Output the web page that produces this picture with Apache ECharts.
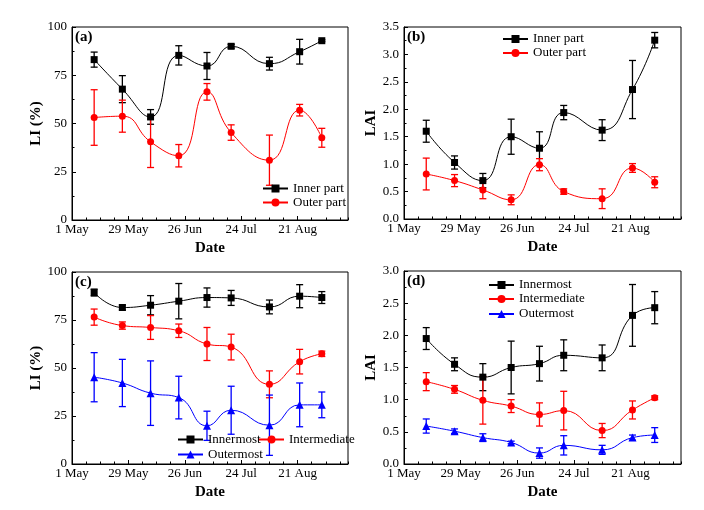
<!DOCTYPE html>
<html><head><meta charset="utf-8">
<script src="https://cdn.jsdelivr.net/npm/echarts@6/dist/echarts.min.js"></script>
<style>html,body{margin:0;padding:0;background:#fff}#c{width:704px;height:510px}</style>
</head><body><div id="c"></div>
<script>
// Sampling dates as days after 1 May
const sampleDays = [11, 25, 39, 53, 67, 79, 98, 113, 124];
const tickDays = [0, 28, 56, 84, 112];
const tickLabels = ['1 May', '29 May', '26 Jun', '24 Jul', '21 Aug'];

// (a) LI (%)
const aInner = [83.1, 67.8, 53.4, 85.3, 79.8, 90.0, 81.0, 87.2, 92.9];
const aInnerErr = [3.9, 7.0, 3.8, 5.0, 7.0, 1.0, 3.3, 6.4, 0.5];
const aOuter = [53.1, 53.8, 40.5, 33.3, 66.4, 45.3, 31.0, 56.9, 42.6];
const aOuterErr = [14.4, 8.3, 13.3, 5.8, 4.3, 4.0, 13.0, 3.0, 4.9];
// (b) LAI
const bInner = [1.60, 1.03, 0.70, 1.50, 1.29, 1.94, 1.62, 2.36, 3.26];
const bInnerErr = [0.20, 0.12, 0.13, 0.32, 0.30, 0.13, 0.19, 0.53, 0.14];
const bOuter = [0.82, 0.70, 0.53, 0.35, 0.99, 0.50, 0.37, 0.93, 0.67];
const bOuterErr = [0.29, 0.11, 0.16, 0.09, 0.11, 0.05, 0.18, 0.08, 0.10];
// (c) LI (%)
const cInnermost = [89.3, 81.5, 82.7, 84.8, 86.7, 86.5, 81.8, 87.4, 86.7];
const cInnermostErr = [1.8, 1.3, 5.0, 9.2, 5.0, 3.9, 3.6, 6.0, 3.1];
const cIntermediate = [76.5, 72.1, 71.1, 69.4, 62.5, 60.9, 41.5, 53.3, 57.4];
const cIntermediateErr = [4.2, 1.9, 6.2, 3.5, 8.6, 6.7, 7.0, 6.4, 1.4];
const cOutermost = [45.2, 42.2, 36.9, 34.6, 19.9, 28.0, 20.2, 30.8, 30.8];
const cOutermostErr = [12.8, 12.3, 16.8, 11.1, 7.6, 12.5, 15.7, 11.4, 6.7];
// (d) LAI
const dInnermost = [1.95, 1.55, 1.35, 1.50, 1.56, 1.69, 1.65, 2.31, 2.43];
const dInnermostErr = [0.17, 0.10, 0.21, 0.41, 0.27, 0.24, 0.20, 0.48, 0.25];
const dIntermediate = [1.28, 1.16, 0.99, 0.90, 0.77, 0.83, 0.52, 0.84, 1.03];
const dIntermediateErr = [0.14, 0.06, 0.37, 0.10, 0.18, 0.30, 0.11, 0.14, 0.03];
const dOutermost = [0.59, 0.51, 0.41, 0.335, 0.17, 0.29, 0.22, 0.41, 0.45];
const dOutermostErr = [0.11, 0.035, 0.06, 0.02, 0.08, 0.15, 0.07, 0.04, 0.115];

const FONT = 'Liberation Serif';
const panels = [
  {label: '(a)', yName: 'LI (%)', yMax: 100, yInt: 25, dec: 0, nameGap: 26, rect: {left: 72, top: 27, width: 276, height: 193}},
  {label: '(b)', yName: 'LAI', yMax: 3.5, yInt: 0.5, dec: 1, nameGap: 22, rect: {left: 404, top: 27, width: 277, height: 192}},
  {label: '(c)', yName: 'LI (%)', yMax: 100, yInt: 25, dec: 0, nameGap: 26, rect: {left: 72, top: 272, width: 276, height: 192}},
  {label: '(d)', yName: 'LAI', yMax: 3.0, yInt: 0.5, dec: 1, nameGap: 22, rect: {left: 404, top: 271, width: 277, height: 193}}
];

const groups = [
  {p: 0, name: 'Inner part', v: aInner, e: aInnerErr, color: '#000000', symbol: 'rect', size: 7, lx: 262, ly: 189.5},
  {p: 0, name: 'Outer part', v: aOuter, e: aOuterErr, color: '#ff0000', symbol: 'circle', size: 7, lx: 262, ly: 203.5},
  {p: 1, name: 'Inner part', v: bInner, e: bInnerErr, color: '#000000', symbol: 'rect', size: 7, lx: 502, ly: 40},
  {p: 1, name: 'Outer part', v: bOuter, e: bOuterErr, color: '#ff0000', symbol: 'circle', size: 7, lx: 502, ly: 54},
  {p: 2, name: 'Innermost', v: cInnermost, e: cInnermostErr, color: '#000000', symbol: 'rect', size: 7, lx: 177, ly: 440.5},
  {p: 2, name: 'Intermediate', v: cIntermediate, e: cIntermediateErr, color: '#ff0000', symbol: 'circle', size: 7, lx: 258, ly: 440.5},
  {p: 2, name: 'Outermost', v: cOutermost, e: cOutermostErr, color: '#0000ff', symbol: 'triangle', size: 8, lx: 177, ly: 455.5},
  {p: 3, name: 'Innermost', v: dInnermost, e: dInnermostErr, color: '#000000', symbol: 'rect', size: 7, lx: 488, ly: 286},
  {p: 3, name: 'Intermediate', v: dIntermediate, e: dIntermediateErr, color: '#ff0000', symbol: 'circle', size: 7, lx: 488, ly: 300},
  {p: 3, name: 'Outermost', v: dOutermost, e: dOutermostErr, color: '#0000ff', symbol: 'triangle', size: 8, lx: 488, ly: 315}
];

const grid = [], xAxis = [], yAxis = [], series = [], legend = [], title = [];
panels.forEach((p, i) => {
  grid.push(Object.assign({show: true, borderColor: '#000', borderWidth: 1, backgroundColor: 'transparent'}, p.rect));
  // main x axis (labels + major ticks)
  xAxis.push({
    type: 'value', gridIndex: i, position: 'bottom', min: 0, max: 137, interval: 28,
    name: 'Date', nameLocation: 'middle', nameGap: 21,
    nameTextStyle: {fontFamily: FONT, fontWeight: 'bold', fontSize: 15, color: '#000'},
    axisLine: {show: true, onZero: false, lineStyle: {color: '#000', width: 1}},
    axisTick: {show: true, inside: true, length: 4, lineStyle: {color: '#000'}},
    axisLabel: {show: true, margin: 3, fontFamily: FONT, fontSize: 13, color: '#000', showMinLabel: true, showMaxLabel: false,
      formatter: v => { const k = tickDays.indexOf(v); return k >= 0 ? tickLabels[k] : ''; }},
    splitLine: {show: false}
  });
  yAxis.push({
    type: 'value', gridIndex: i, position: 'left', min: 0, max: p.yMax, interval: p.yInt,
    name: p.yName, nameLocation: 'middle', nameGap: p.nameGap,
    nameTextStyle: {fontFamily: FONT, fontWeight: 'bold', fontSize: 15, color: '#000'},
    axisLine: {show: true, onZero: false, lineStyle: {color: '#000', width: 1}},
    axisTick: {show: true, inside: true, length: 4, lineStyle: {color: '#000'}},
    minorTick: {show: true, splitNumber: 2, length: 2.5, lineStyle: {color: '#000'}},
    axisLabel: {margin: 5, fontFamily: FONT, fontSize: 13, color: '#000', formatter: v => v.toFixed(p.dec)},
    splitLine: {show: false}
  });
  title.push({text: p.label, left: p.rect.left + 3, top: p.rect.top + 3, padding: 0,
    textStyle: {fontFamily: FONT, fontWeight: 'bold', fontSize: 15, color: '#000'}});
});
// minor x ticks (every 7 days)
panels.forEach((p, i) => {
  xAxis.push({
    type: 'value', gridIndex: i, position: 'bottom', min: 0, max: 137, interval: 7,
    axisLine: {show: false}, axisLabel: {show: false}, splitLine: {show: false},
    axisTick: {show: true, inside: true, length: 2.5, lineStyle: {color: '#000'}}
  });
});

function errRender(params, api) {
  const x = api.value(0), lo = api.value(1), hi = api.value(2);
  const t = api.coord([x, hi]), b = api.coord([x, lo]);
  const w = 3.5;
  const style = {stroke: api.visual('color'), lineWidth: 1.3, fill: null};
  return {type: 'group', children: [
    {type: 'line', shape: {x1: t[0], y1: t[1], x2: b[0], y2: b[1]}, style: style},
    {type: 'line', shape: {x1: t[0] - w, y1: t[1], x2: t[0] + w, y2: t[1]}, style: style},
    {type: 'line', shape: {x1: b[0] - w, y1: b[1], x2: b[0] + w, y2: b[1]}, style: style}
  ]};
}

groups.forEach((g, k) => {
  series.push({
    type: 'custom', name: g.name + ' err ' + k, xAxisIndex: g.p, yAxisIndex: g.p,
    renderItem: errRender, itemStyle: {color: g.color}, z: 2, silent: true,
    encode: {x: 0, y: [1, 2]},
    data: sampleDays.map((d, i) => [d, g.v[i] - g.e[i], g.v[i] + g.e[i]])
  });
  series.push({
    type: 'line', name: g.name, xAxisIndex: g.p, yAxisIndex: g.p, smooth: 0.5,
    symbol: g.symbol, symbolSize: g.size, showSymbol: true, z: 3,
    itemStyle: {color: g.color}, lineStyle: {color: g.color, width: 1},
    data: sampleDays.map((d, i) => [d, g.v[i]])
  });
  legend.push({
    data: [g.name], left: g.lx, top: g.ly - 7.5, padding: 0, itemWidth: 25, itemHeight: 10,
    selectedMode: false, textStyle: {fontFamily: FONT, fontSize: 13, color: '#000'}
  });
});

const chart = echarts.init(document.getElementById('c'), null, {renderer: 'canvas'});
chart.setOption({animation: false, backgroundColor: '#fff', title, grid, xAxis, yAxis, series, legend});
</script></body></html>
